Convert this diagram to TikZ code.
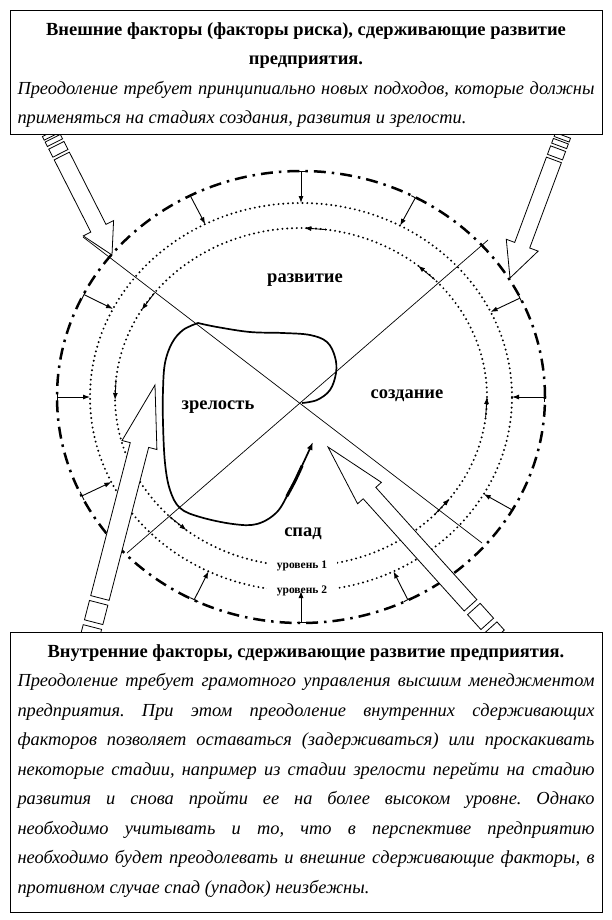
\documentclass[tikz,border=0pt]{standalone}
\usepackage{fontspec}
\setmainfont{Liberation Serif}
\usetikzlibrary{calc}
\usetikzlibrary{positioning}
\usetikzlibrary{arrows.meta}
\newcommand\boxheadfont{\fontsize{18.5}{29.5}\selectfont\bfseries}
\newcommand\boxbodyfont{\fontsize{18.4}{29.5}\selectfont\itshape\frenchspacing
  \spaceskip=.25em plus .6em minus .1em\relax}

\begin{document}
\begin{tikzpicture}[x=1pt,y=-1pt,
    stage/.style={font=\fontsize{18.5}{20}\selectfont\bfseries},
    lvl/.style={font=\fontsize{11.5}{12}\selectfont\bfseries,fill=white,inner xsep=10pt,inner ysep=1pt},
    outer ring/.style={line width=2.5pt,dash pattern=on 12pt off 6pt on 2.5pt off 6pt},
    dot ring/.style={line width=2.2pt,line cap=round,dash pattern=on 0pt off 4.8pt},
    push/.style={line width=0.9pt,{Bar[width=9pt]}-{Latex[length=7pt,width=5pt]}},
    flow/.style={line width=0.9pt,-{Latex[length=7pt,width=5pt]}},
    axisline/.style={line width=0.7pt},
    fatarrow/.style={draw,fill=white,line width=0.8pt},
    infobox/.style={draw,fill=white,line width=0.9pt,minimum width=592pt,inner sep=0pt},
    infotext/.style={text width=577pt,align=justify,inner sep=0pt,
      font=\fontsize{19}{29.5}\selectfont}
  ]
  \useasboundingbox (0,0) rectangle (612,920);
  \coordinate (c) at (301,397);
  \draw[outer ring] (c) ellipse [x radius=244pt, y radius=226pt];
  \draw[dot ring] (c) ellipse [x radius=211pt, y radius=194pt];
  \draw[dot ring] (c) ellipse [x radius=186pt, y radius=169pt];
  \node[lvl] (lev1) at (302,566) {уровень 1};
  \node[lvl] (lev2) at (302,591) {уровень 2};
  \foreach \a [count=\i] in {0,26,62,90,117,153,180,206,244,270,296,330}{
    \coordinate (o\i) at ($(c)+(\a:244pt and 226pt)$);
    \coordinate (m\i) at ($(c)+(\a:211pt and 194pt)$);
    \draw[push] (o\i) -- (m\i);
  }
  \foreach \a [count=\i] in {0,51,89,149,181,232,323}{
    \coordinate (f\i) at ($(c)+(\a-7:186pt and 169pt)$);
    \coordinate (t\i) at ($(c)+(\a:186pt and 169pt)$);
    \draw[flow] (f\i) -- (t\i);
  }
  \coordinate (d1) at (83,237);
  \coordinate (d2) at (482,543);
  \coordinate (d3) at (127,553);
  \coordinate (d4) at (488,240);
  \draw[axisline] (d1) -- (d2);
  \draw[axisline] (d3) -- (d4);
  \draw[line width=1.7pt,-{Latex[length=8pt,width=6pt]}]
    plot[smooth,tension=0.6] coordinates {(302,403) (317,400) (330,390) (336,373)
      (335,357) (327,342) (310,335) (283,333) (250,332) (217,327) (198,323)}
    -- plot[smooth,tension=0.6] coordinates {(198,323) (183,330) (172,343) (165,363)
      (163,390) (163,423) (165,463) (170,490) (180,508) (200,517) (233,524)
      (257,524) (277,512) (290,490) (300,470) (313,442)};
  \draw[line width=3pt,line cap=round] plot[smooth] coordinates {(287,496) (295,481) (302,466)};
  \foreach \x/\y/\r/\lh/\wh/\ws/\ls/\g/\b in {112/255/-63.1/30/34/17/81/3/9,
      510/278/-110.4/35/34/16/91/3/9, 155/385/75.5/62/36/19/158/5/20,
      328/447/132/62/32/17/151/5/20}{
    \begin{scope}[shift={(\x,\y)},rotate=\r]
      \pgfmathsetmacro\e{\lh+\ls}
      \draw[fatarrow] (0,0) -- (-\lh,-\wh/2) -- (-\lh,-\ws/2) -- ({-\e},-\ws/2)
        -- ({-\e},\ws/2) -- (-\lh,\ws/2) -- (-\lh,\wh/2) -- cycle;
      \draw[fatarrow] ({-\e-\g},-\ws/2) rectangle ({-\e-\g-\b},\ws/2);
      \draw[fatarrow] ({-\e-2*\g-\b},-\ws/2) rectangle ({-\e-2*\g-1.55*\b},\ws/2);
      \draw[fatarrow] ({-\e-2.7*\g-1.55*\b},-\ws/2) rectangle ({-\e-2.7*\g-2*\b},\ws/2);
    \end{scope}
  }
  \node[stage] (razv) at (305,280) {развитие};
  \node[stage] (sozd) at (407,396) {создание};
  \node[stage] (zrel) at (218,407) {зрелость};
  \node[stage] (spad) at (303,534) {спад};
  \node[infobox,minimum height=124pt,anchor=north] (topbox) at (306,10) {};
  \node[infotext,below=12pt of topbox.north] (toptext) {%
    {\centering\boxheadfont Внешние факторы (факторы риска), сдерживающие развитие\\
      предприятия.\par}
    \boxbodyfont Преодоление требует принципиально новых подходов, которые должны\linebreak
    применяться на стадиях создания, развития и зрелости.};
  \node[infobox,minimum height=280pt,anchor=north] (botbox) at (306,632) {};
  \node[infotext,below=12pt of botbox.north] (bottext) {%
    {\centering\boxheadfont Внутренние факторы, сдерживающие развитие предприятия.\par}
    \boxbodyfont Преодоление требует грамотного управления высшим менеджментом\linebreak
    предприятия. При этом преодоление внутренних сдерживающих\linebreak
    факторов позволяет оставаться (задерживаться) или проскакивать\linebreak
    некоторые стадии, например из стадии зрелости перейти на стадию\linebreak
    развития и снова пройти ее на более высоком уровне. Однако\linebreak
    необходимо учитывать и то, что в перспективе предприятию\linebreak
    необходимо будет преодолевать и внешние сдерживающие факторы, в\linebreak
    противном случае спад (упадок) неизбежны.};
\end{tikzpicture}
\end{document}
